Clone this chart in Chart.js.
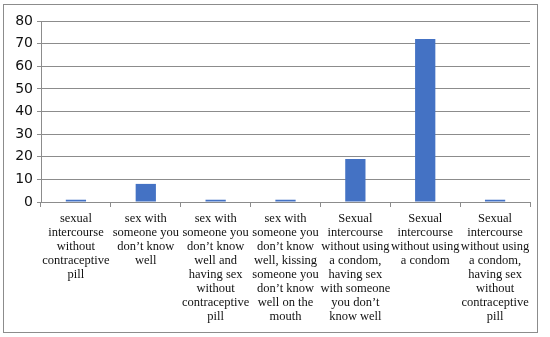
<!DOCTYPE html>
<html>
<head>
<meta charset="utf-8">
<script src="https://cdn.jsdelivr.net/npm/chart.js@4"></script>
<style>
  html, body { margin: 0; padding: 0; background: #fff; }
  #frame { position: absolute; left: 3px; top: 4px; width: 533px; height: 327px; border: 1px solid #8c8c8c; }
  canvas { display: block; }
</style>
</head>
<body>
<div id="frame"><canvas id="chart" width="533" height="327"></canvas></div>
<script>
const categories = [
    ['sexual', 'intercourse', 'without', 'contraceptive', 'pill'],
    ['sex with', 'someone you', 'don\u2019t know', 'well'],
    ['sex with', 'someone you', 'don\u2019t know', 'well and', 'having sex', 'without', 'contraceptive', 'pill'],
    ['sex with', 'someone you', 'don\u2019t know', 'well, kissing', 'someone you', 'don\u2019t know', 'well on the', 'mouth'],
    ['Sexual', 'intercourse', 'without using', 'a condom,', 'having sex', 'with someone', 'you don\u2019t', 'know well'],
    ['Sexual', 'intercourse', 'without using', 'a condom'],
    ['Sexual', 'intercourse', 'without using', 'a condom,', 'having sex', 'without', 'contraceptive', 'pill']
];
const values = [1, 8, 1, 1, 19, 72, 1];
const yTicks = [0, 10, 20, 30, 40, 50, 60, 70, 80];

new Chart(document.getElementById('chart').getContext('2d'), {
    type: 'bar',
    data: {
        labels: categories,
        datasets: [{ data: values, backgroundColor: '#4472c4', borderWidth: 0, categoryPercentage: 0.29, barPercentage: 1 }]
    },
    options: {
        responsive: false,
        animation: false,
        layout: { padding: { top: 16, right: 7, left: 0, bottom: 0 } },
        plugins: { legend: { display: false }, tooltip: { enabled: false } },
        scales: {
            x: {
                offset: true,
                grid: { display: true, drawOnChartArea: false, offset: true, tickLength: 5, color: '#8c8c8c' },
                border: { color: '#8c8c8c' },
                ticks: {
                    autoSkip: false, maxRotation: 0, minRotation: 0, padding: 5,
                    color: '#111', font: { family: 'Liberation Serif', size: 12.5, lineHeight: 1.12 }
                },
                afterFit: (scale) => { scale.height = 130; }
            },
            y: {
                min: 0, max: 80,
                afterBuildTicks: (scale) => { scale.ticks = yTicks.map(v => ({ value: v })); },
                grid: { color: '#8c8c8c', tickLength: 4 },
                border: { color: '#8c8c8c' },
                ticks: { padding: 4, color: '#111', font: { family: 'DejaVu Sans', size: 14 } },
                afterFit: (scale) => { scale.width = 37; }
            }
        }
    }
});
</script>
</body>
</html>
